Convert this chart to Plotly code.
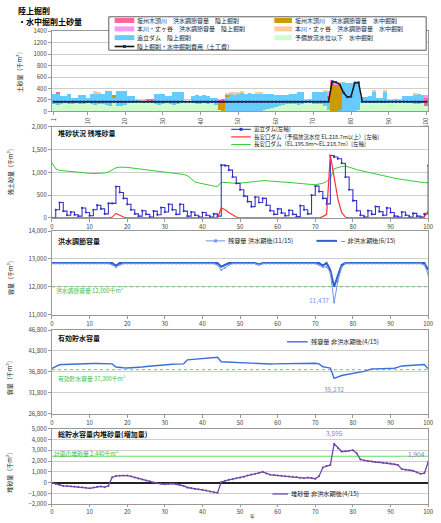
import plotly.graph_objects as go

W, H = 441, 523
FONT = "Noto Sans CJK JP"

# ---------------- data ----------------
years = list(range(1, 101))          # excavation years (panel 1)
t = list(range(0, 101))              # elapsed years (panels 2-5)
year_ticks = [1, 10, 20, 30, 40, 50, 60, 70, 80, 90, 100]
year_tick_text = ["1", "10", "20", "30", "40", "50", "60", "70", "80", "90", "100"]
elapsed_ticks = [0, 10, 20, 30, 40, 50, 60, 70, 80, 90, 100]

# Panel 1: excavated sediment per year (千m³)
yobi_suichu = [120, 110, 130, 140, 120, 130, 140, 120, 130, 150,
               120, 110, 120, 130, 110, 100, 150, 90, 100, 110,
               140, 150, 170, 170, 160, 170, 160, 120, 110, 120,
               140, 130, 110, 120, 160, 170, 170, 140, 130, 130,
               140, 130, 150, 110, 20, 10, 0, 0, 0, 0,
               0, 0, 0, 0, 0, 10, 20, 40, 60, 80,
               100, 110, 120, 120, 130, 110, 120, 170, 190, 130,
               120, 130, 100, 30, 0, 0, 0, 10, 10, 10,
               10, 20, 150, 160, 150, 140, 160, 150, 140, 170,
               170, 180, 170, 160, 150, 140, 130, 130, 140, 100]
oitate_rikujo = [190, 200, 130, 120, 180, 110, 100, 160, 150, 80,
                 190, 200, 190, 170, 240, 250, 80, 270, 260, 250,
                 120, 110, 20, 20, 20, 10, 20, 190, 200, 190,
                 130, 130, 230, 220, 180, 0, 0, 130, 150, 140,
                 140, 130, 90, 120, 0, 0, 250, 300, 300, 310,
                 320, 310, 320, 300, 310, 300, 290, 270, 250, 200,
                 180, 170, 170, 180, 180, 230, 220, 20, 10, 210,
                 220, 210, 240, 180, 0, 0, 20, 500, 490, 480,
                 500, 490, 100, 90, 110, 200, 80, 90, 210, 20,
                 20, 20, 30, 100, 110, 120, 160, 170, 150, 0]
sakashu_suichu = [0] * 100
for y_, v in {17: 60, 45: 120, 46: 160, 47: 30, 75: 440, 76: 460, 77: 430}.items():
    sakashu_suichu[y_ - 1] = v
sakashu_rikujo = [0] * 100
for y_, v in {2: 30, 26: 30, 27: 20, 45: 60, 46: 40, 74: 60, 75: 80, 100: 140}.items():
    sakashu_rikujo[y_ - 1] = v
honkawa_suichu = [0] * 100
for y_, v in {12: 40, 13: 30, 24: 30, 25: 20, 47: 40, 48: 40, 49: 30, 50: 30, 51: 20,
              55: 20, 56: 30, 73: 20, 77: 60, 86: 20, 89: 20, 97: 20}.items():
    honkawa_suichu[y_ - 1] = v
honkawa_rikujo = [0] * 100
for y_, v in {74: 80, 75: 20, 76: 20, 100: 40}.items():
    honkawa_rikujo[y_ - 1] = v
cost = [170] * 74 + [520, 510, 470, 330, 250, 260, 500, 505] + [170] * 18

# Panel 2: remaining deposited sediment (千m³)
oitate_dam = [0, 180, 340, 150, 60, 130, 70, 40, 220, 120,
              50, 180, 280, 200, 90, 320, 320, 690, 560, 430,
              300, 180, 90, 40, 160, 80, 20, 150, 70, 230,
              130, 300, 180, 80, 300, 150, 40, 130, 60, 20,
              120, 60, 20, 90, 40, 1160, 1150, 1050, 900, 760,
              620, 480, 360, 250, 460, 340, 430, 280, 160, 80,
              200, 110, 50, 170, 80, 30, 270, 180, 90, 500,
              700, 580, 430, 310, 1370, 1340, 1300, 1200, 900, 620,
              380, 160, 60, 20, 160, 80, 250, 140, 60, 220,
              120, 40, 20, 130, 60, 20, 100, 40, 20, 90, 1150]
nagayasu_upper = [0] * 101
for y_, v in {16: 20, 17: 100, 18: 60, 19: 20, 45: 220, 46: 180, 47: 120, 48: 60, 49: 20,
              72: 30, 73: 80, 74: 1380, 75: 900, 76: 420, 77: 120, 78: 20, 99: 20, 100: 150}.items():
    nagayasu_upper[y_] = v
nagayasu_mid = [1210, 1080, 1045, 1035, 1025, 1015, 1005, 1000, 990, 985,
                980, 975, 975, 980, 990, 1010, 1060, 1100, 1115, 1120,
                1110, 1100, 1090, 1080, 1065, 1050, 1040, 1030, 1020, 1010,
                1000, 990, 980, 970, 960, 955, 930, 860, 790, 770,
                750, 730, 715, 700, 690, 780, 780, 770, 760, 760,
                765, 770, 780, 790, 800, 810, 820, 820, 810, 800,
                795, 790, 785, 780, 770, 765, 760, 750, 740, 735,
                730, 740, 760, 800, 870, 1080, 1110, 1130, 1140, 1120,
                1090, 1060, 1040, 1020, 1000, 980, 960, 940, 920, 905,
                890, 875, 860, 845, 830, 815, 800, 790, 785, 780, 770]

# Panel 3: flood control capacity (千m³)
flood_after_flood = [12830] * 101
for y_, v in {16: 12790, 17: 12700, 18: 12780, 44: 12780, 45: 12600, 46: 12680, 47: 12780,
              55: 12780, 71: 12780, 72: 12700, 73: 12720, 74: 12500, 75: 11437, 76: 12200,
              77: 12700, 99: 12780, 100: 12450}.items():
    flood_after_flood[y_] = v
flood_after_nonflood = [12850] * 101
for y_, v in {17: 12760, 45: 12720, 46: 12780, 55: 12800, 72: 12760, 74: 12600,
              75: 12000, 76: 12400, 77: 12780, 100: 12600}.items():
    flood_after_nonflood[y_] = v
flood_capacity = 12000

# Panel 4: effective storage capacity (千m³)
effective_storage = [37630, 38100, 38470, 38550, 38600, 38620, 38640, 38660, 38700, 38740,
                     38770, 38790, 38790, 38780, 38770, 38760, 38700, 37950, 37800, 37750,
                     37720, 37740, 37800, 37880, 37960, 38050, 38150, 38250, 38350, 38450,
                     38550, 38600, 38620, 38640, 38650, 38700, 39650, 39750, 39800, 39850,
                     39900, 39980, 40100, 40250, 40280, 39200, 39150, 39100, 39050, 39000,
                     39000, 38950, 38900, 38850, 38800, 38750, 38650, 38600, 38650, 38700,
                     38720, 38740, 38760, 38780, 38800, 38820, 38840, 38850, 38860, 38870,
                     38850, 38700, 38000, 37850, 37700, 35232, 35600, 35900, 36100, 36250,
                     36350, 36500, 36650, 36900, 37200, 37450, 37500, 37520, 37550, 37570,
                     37600, 37650, 37900, 38200, 38250, 38300, 38380, 38450, 38500, 38520, 37500]
effective_capacity = 37300

# Panel 5: sediment increase within total storage (千m³)
sediment_increase = [0, -120, -230, -300, -320, -340, -360, -380, -420, -480,
                     -530, -460, -380, -350, -420, -300, 500, 610, 640, 660,
                     650, 580, 480, 380, 300, 200, 120, 20, -60, -110,
                     -150, -120, -90, -150, -220, -300, -450, -530, -580, -620,
                     -660, -720, -820, -900, -940, 60, 180, 260, 320, 400,
                     460, 530, 650, 760, 820, 900, 1000, 850, 740, 700,
                     660, 630, 600, 570, 540, 520, 460, 410, 470, 420,
                     360, 600, 1400, 1530, 1620, 3595, 3200, 2880, 2900, 2950,
                     3000, 2710, 2150, 2050, 1980, 1950, 1910, 1880, 1850, 1820,
                     1780, 1700, 1620, 1250, 1200, 1150, 1100, 950, 820, 880, 1904]
planned_sediment = 2440


# ---------------- helpers ----------------
def px(x):
    return x / W


def py(y):
    return 1 - y / H


XDOM = [px(50), px(434)]
TICKFONT = dict(size=6, color="#444", family=FONT)
GRID = "#cfcfcf"


def y_axis(top, bottom, rng, dtick, fmt, anchor):
    return dict(domain=[py(bottom), py(top)], range=rng, dtick=dtick, tickformat=fmt,
                showgrid=True, gridcolor=GRID, gridwidth=0.7, showline=True,
                linecolor="#999", linewidth=1, mirror=True, ticks="outside", ticklen=3,
                tickcolor="#999", tickfont=TICKFONT, zeroline=False, anchor=anchor,
                fixedrange=True)


def x_axis(anchor, rng, **kw):
    d = dict(domain=XDOM, range=rng, anchor=anchor, showgrid=False, showline=True,
             linecolor="#999", linewidth=1, mirror=True, ticks="outside", ticklen=3,
             tickcolor="#999", tickfont=TICKFONT, zeroline=False, fixedrange=True,
             ticklabeloverflow="allow")
    d.update(kw)
    return d


annotations = []
shapes = []


def text(x, y, s, size=6.2, color="#222", xanchor="left", yanchor="middle", bold=False, angle=0):
    if bold:
        s = "<b>" + s + "</b>"
    annotations.append(dict(x=px(x), y=py(y), xref="paper", yref="paper", text=s,
                            showarrow=False, xanchor=xanchor, yanchor=yanchor, textangle=angle,
                            borderpad=0, font=dict(size=size, color=color, family=FONT)))


def key(x0, x1, y, color, width, label, dash="solid", dot=None, size=6.2):
    shapes.append(dict(type="line", xref="paper", yref="paper", x0=px(x0), x1=px(x1),
                       y0=py(y), y1=py(y), line=dict(color=color, width=width, dash=dash)))
    if dot:
        cx = (x0 + x1) / 2
        shapes.append(dict(type="rect", xref="paper", yref="paper", x0=px(cx - 1.5), x1=px(cx + 1.5),
                           y0=py(y + 1.5), y1=py(y - 1.5), line=dict(width=0), fillcolor=dot))
    text(x1 + 2, y, label, size=size)


fig = go.Figure()

# ---------------- panel 1: stacked excavation volumes ----------------
layers = [
    ("予備放流水位以下　水中掘削", yobi_suichu, "#ccffcc"),
    ("追立ダム　陸上掘削", oitate_rikujo, "#66ccff"),
    ("坂州木頭川　洪水調節容量　水中掘削", sakashu_suichu, "#cc9900"),
    ("坂州木頭川　洪水調節容量　陸上掘削", sakashu_rikujo, "#ff6699"),
    ("本川・丈ヶ谷　洪水調節容量　水中掘削", honkawa_suichu, "#ffcc99"),
    ("本川・丈ヶ谷　洪水調節容量　陸上掘削", honkawa_rikujo, "#ff99ee"),
]
for name, vals, col in layers:
    fig.add_trace(go.Bar(x=years, y=vals, name=name, marker=dict(color=col, line=dict(width=0)),
                         xaxis="x", yaxis="y", showlegend=False))
fig.add_trace(go.Scatter(x=years, y=cost, name="陸上掘削・水中掘削費用（土工費）", mode="lines+markers",
                         line=dict(color="#111", width=1.5), marker=dict(size=2.5, color="#1b2f70"),
                         xaxis="x", yaxis="y", showlegend=False))

# ---------------- panel 2: remaining sediment ----------------
fig.add_trace(go.Scatter(x=t, y=nagayasu_mid, mode="lines", line=dict(color="#33cc33", width=1),
                         xaxis="x2", yaxis="y2", showlegend=False))
fig.add_trace(go.Scatter(x=t, y=oitate_dam, mode="lines+markers", line=dict(color="#3333cc", width=1.1, shape="hv"),
                         marker=dict(size=2.2, color="#3333cc"), xaxis="x2", yaxis="y2", showlegend=False))
fig.add_trace(go.Scatter(x=t, y=nagayasu_upper, mode="lines", line=dict(color="#ff3333", width=1.2),
                         xaxis="x2", yaxis="y2", showlegend=False))

# ---------------- panel 3: flood control capacity ----------------
fig.add_trace(go.Scatter(x=[0, 100], y=[flood_capacity] * 2, mode="lines",
                         line=dict(color="#66cc66", width=1, dash="dot"), xaxis="x3", yaxis="y3", showlegend=False))
fig.add_trace(go.Scatter(x=t, y=flood_after_nonflood, mode="lines", line=dict(color="#2f5fd0", width=2),
                         xaxis="x3", yaxis="y3", showlegend=False))
fig.add_trace(go.Scatter(x=t, y=flood_after_flood, mode="lines+markers", line=dict(color="#6f95ee", width=1),
                         marker=dict(size=2, color="#6f95ee"), xaxis="x3", yaxis="y3", showlegend=False))

# ---------------- panel 4: effective storage ----------------
fig.add_trace(go.Scatter(x=[0, 100], y=[effective_capacity] * 2, mode="lines",
                         line=dict(color="#66cc66", width=1, dash="dot"), xaxis="x4", yaxis="y4", showlegend=False))
fig.add_trace(go.Scatter(x=t, y=effective_storage, mode="lines", line=dict(color="#3a6fdc", width=1.4),
                         xaxis="x4", yaxis="y4", showlegend=False))

# ---------------- panel 5: sediment increase ----------------
fig.add_trace(go.Scatter(x=[0, 100], y=[planned_sediment] * 2, mode="lines",
                         line=dict(color="#66dd66", width=1), xaxis="x5", yaxis="y5", showlegend=False))
fig.add_trace(go.Scatter(x=t, y=sediment_increase, mode="lines+markers", line=dict(color="#7048a8", width=1.3),
                         marker=dict(size=2, color="#7048a8"), xaxis="x5", yaxis="y5", showlegend=False))

# value labels taken from the series
i3 = flood_after_flood.index(min(flood_after_flood))
annotations.append(dict(x=t[i3], y=flood_after_flood[i3], xref="x3", yref="y3",
                        text=f"{flood_after_flood[i3]:,}", showarrow=False, xanchor="right",
                        xshift=-3, yshift=2, font=dict(size=6.5, color="#6f95ee", family=FONT)))
i4 = effective_storage.index(min(effective_storage))
annotations.append(dict(x=t[i4], y=effective_storage[i4], xref="x4", yref="y4",
                        text=f"{effective_storage[i4]:,}", showarrow=False, yanchor="top",
                        yshift=-4, font=dict(size=6.5, color="#6f95ee", family=FONT)))
i5 = sediment_increase.index(max(sediment_increase))
annotations.append(dict(x=t[i5], y=sediment_increase[i5], xref="x5", yref="y5",
                        text=f"{sediment_increase[i5]:,}", showarrow=False, yanchor="bottom",
                        yshift=4, font=dict(size=6.5, color="#9a6fd0", family=FONT)))
annotations.append(dict(x=t[-1], y=sediment_increase[-1], xref="x5", yref="y5",
                        text=f"{sediment_increase[-1]:,}", showarrow=False, xanchor="right",
                        yanchor="bottom", xshift=-1, yshift=1, font=dict(size=6.5, color="#9a6fd0", family=FONT)))

# ---------------- titles and keys ----------------
text(14, 6, "陸上掘削", size=8, color="#000", bold=True)
text(14, 16.5, "・水中掘削土砂量", size=8, color="#000", bold=True)

shapes.append(dict(type="rect", xref="paper", yref="paper", x0=px(108), x1=px(432), y0=py(46), y1=py(12),
                   line=dict(color="#333", width=0.8), fillcolor="white", layer="above"))
key(114, 134, 15.7, "#ff6699", 5, "坂州木頭川　洪水調節容量　陸上掘削", size=6)
key(114, 134, 24.3, "#ff99ee", 5, "本川・丈ヶ谷　洪水調節容量　陸上掘削", size=6)
key(114, 134, 33.2, "#66ccff", 5, "追立ダム　陸上掘削", size=6)
key(114, 134, 42.2, "#111111", 1.6, "陸上掘削・水中掘削費用（土工費）", dot="#1b2f70", size=6)
key(277, 295, 15.7, "#cc9900", 5, "坂州木頭川　洪水調節容量　水中掘削", size=6)
key(277, 295, 24.3, "#ffcc99", 5, "本川・丈ヶ谷　洪水調節容量　水中掘削", size=6)
key(277, 295, 33.2, "#ccffcc", 5, "予備放流水位以下　水中掘削", size=6)

text(55, 130, "堆砂状況 残堆砂量", size=7, color="#111", bold=True)
key(233, 253, 126.5, "#3333cc", 1.1, "追立ダム[左軸]", dot="#3333cc", size=5.5)
key(233, 253, 134.2, "#ff3333", 1.2, "長安口ダム（予備放流水位 EL.218.7m以上）[左軸]", size=5.5)
key(233, 253, 141.9, "#33cc33", 1, "長安口ダム（EL.195.9m～EL.218.7m）[左軸]", size=5.5)

text(55, 240, "洪水調節容量", size=7, color="#111", bold=True)
key(207, 227, 240, "#6f95ee", 1, "残容量 洪水期後(11/15)", dot="#6f95ee")
key(320, 341, 240, "#2f5fd0", 2, "－ 非洪水期後(6/15)")
text(53, 291, f"洪水調節容量 {flood_capacity:,}千m³", size=5.8, color="#44bb44")

text(55, 339, "有効貯水容量", size=7, color="#111", bold=True)
key(290, 311, 342.7, "#3a6fdc", 1.4, "残容量 非洪水期後(4/15)")
text(55, 380, f"有効貯水容量 {effective_capacity:,}千m³", size=5.8, color="#44bb44")

text(55, 437, "総貯水容量内堆砂量(増加量)", size=7, color="#111", bold=True)
key(275, 291, 497.5, "#7048a8", 1.3, "堆砂量 非洪水期後(4/15)")
text(51, 456, f"計画の堆砂量 {planned_sediment:,}千m³", size=5.8, color="#44bb44")

# axis titles
text(17, 67, "土砂量（千m³）", size=6, angle=-90, xanchor="center")
text(7, 168, "残土砂量（千m³）", size=6, angle=-90, xanchor="center")
text(7, 276, "容量（千m³）", size=6, angle=-90, xanchor="center")
text(7, 378, "容量（千m³）", size=6, angle=-90, xanchor="center")
text(7, 474, "堆砂量（千m³）", size=6, angle=-90, xanchor="center")
text(251, 519.5, "年", size=5)

fig.update_layout(
    width=W, height=H, margin=dict(l=0, r=0, t=0, b=0),
    paper_bgcolor="white", plot_bgcolor="white",
    barmode="stack", bargap=0,
    font=dict(family=FONT, size=6, color="#333"),
    showlegend=False,
    xaxis=x_axis("y", [0.5, 100.5], tickvals=year_ticks, ticktext=year_tick_text, tickangle=-90),
    yaxis=y_axis(26.6, 108.3, [0, 1400], 200, "d", "x"),
    xaxis2=x_axis("y2", [0, 100], dtick=10),
    yaxis2=y_axis(124, 216.7, [0, 2000], 500, ",d", "x2"),
    xaxis3=x_axis("y3", [0, 100], dtick=10),
    yaxis3=y_axis(230, 315, [11000, 14000], 1000, ",d", "x3"),
    xaxis4=x_axis("y4", [0, 100], dtick=10),
    yaxis4=y_axis(330.7, 415.7, [26800, 46800], 5000, ",d", "x4"),
    xaxis5=x_axis("y5", [0, 100], tickmode="array", tickvals=elapsed_ticks, ticklen=2),
    yaxis5=y_axis(431, 508, [-2000, 5000], 1000, ",d", "x5"),
    annotations=annotations,
    shapes=shapes,
)
fig.layout.yaxis5.update(zeroline=True, zerolinecolor="#222", zerolinewidth=1.5)
fig.layout.yaxis4.tick0 = 26800
fig.layout.yaxis3.tick0 = 11000

fig.write_html("out.html")
